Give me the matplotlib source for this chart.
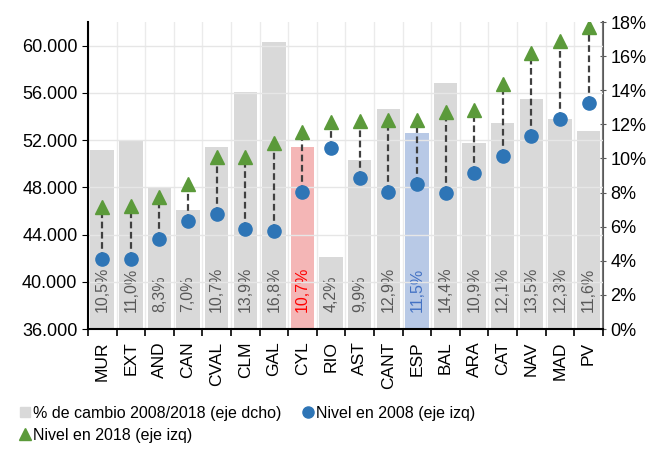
import numpy as np
import matplotlib
matplotlib.use("Agg")
import matplotlib.pyplot as plt
from matplotlib.lines import Line2D
from matplotlib.ticker import FuncFormatter, FixedLocator

plt.rcParams['font.family'] = ['Liberation Sans', 'DejaVu Sans']

# datos
regiones = ["MUR", "EXT", "AND", "CAN", "CVAL", "CLM", "GAL", "CYL", "RIO",
            "AST", "CANT", "ESP", "BAL", "ARA", "CAT", "NAV", "MAD", "PV"]
nivel_2008 = [41970, 41890, 43600, 45150, 45770, 44480, 44310, 47580, 51320,
              48820, 47580, 48280, 47520, 49240, 50680, 52310, 53800, 55180]
nivel_2018 = [46310, 46420, 47210, 48310, 50590, 50590, 51770, 52650, 53490,
              53610, 53720, 53720, 54370, 54560, 56790, 59350, 60370, 61550]
cambio_pct = [10.5, 11.0, 8.3, 7.0, 10.7, 13.9, 16.8, 10.7, 4.2,
              9.9, 12.9, 11.5, 14.4, 10.9, 12.1, 13.5, 12.3, 11.6]

x = np.arange(len(regiones))

bar_colors = ["#D9D9D9"] * len(regiones)
label_colors = ["#595959"] * len(regiones)
bar_colors[regiones.index("CYL")] = "#F4B6B6"
label_colors[regiones.index("CYL")] = "#FF0000"
bar_colors[regiones.index("ESP")] = "#B8C9E6"
label_colors[regiones.index("ESP")] = "#4472C4"

fig = plt.figure(figsize=(6.56, 4.51), dpi=100)
ax = fig.add_axes([0.134, 0.2705, 0.785, 0.6807])
ax2 = ax.twinx()

# barras (eje dcho)
ax2.bar(x, cambio_pct, width=0.82, color=bar_colors, zorder=1)
for xi, v, c in zip(x, cambio_pct, label_colors):
    ax2.text(xi, 1.0, f"{v:.1f}%".replace(".", ","), rotation=90,
             ha="center", va="bottom", fontsize=11.5, color=c)
ax2.set_ylim(0, 18)
ax2.yaxis.set_major_locator(FixedLocator(np.arange(0, 19, 2)))
ax2.yaxis.set_major_formatter(FuncFormatter(lambda v, p: f"{v:.0f}%"))
ax2.tick_params(axis="y", labelsize=13, length=4, color="#595959", direction="inout")

# niveles (eje izq)
ax.set_zorder(ax2.get_zorder() + 1)
ax.patch.set_visible(False)
for xi, a, b in zip(x, nivel_2008, nivel_2018):
    ax.plot([xi, xi], [a, b], ls=(0, (3, 1.6)), color="#404040", lw=1.6, zorder=2)
ax.plot(x, nivel_2008, "o", color="#2E75B6", ms=9.5, zorder=3)
ax.plot(x, nivel_2018, "^", color="#5B9A3A", ms=10, zorder=3)
ax.set_ylim(36000, 62000)
ax.set_xlim(-0.5, len(regiones) - 0.5)
ax.yaxis.set_major_locator(FixedLocator(np.arange(36000, 60001, 4000)))
ax.yaxis.set_major_formatter(FuncFormatter(lambda v, p: f"{v:,.0f}".replace(",", ".")))
ax.tick_params(axis="y", labelsize=13, length=4)

ax.set_xticks(x)
ax.set_xticklabels(regiones, rotation=90, fontsize=12.5)
ax.set_xticks(np.arange(-0.5, len(regiones)), minor=True)
ax.tick_params(axis="x", which="major", length=0, pad=9)
ax.tick_params(axis="x", which="minor", length=5, width=1.2)

ax.grid(axis="y", color="#E6E6E6", lw=1, zorder=0)
ax.grid(axis="x", which="minor", color="#EBEBEB", lw=1, zorder=0)
ax.grid(axis="x", which="major", visible=False)

for a in (ax, ax2):
    a.spines["top"].set_visible(False)
ax.spines["left"].set_linewidth(1.5)
ax.spines["bottom"].set_linewidth(1.5)
ax.spines["right"].set_visible(False)
ax2.spines["left"].set_visible(False)
ax2.spines["bottom"].set_visible(False)
ax2.spines["right"].set_color("#595959")
ax2.spines["right"].set_linewidth(1.5)

# leyenda: orden por filas (col1: barras, 2018; col2: 2008)
h_bar = Line2D([], [], marker="s", ls="none", color="#D9D9D9", ms=7)
h_2008 = Line2D([], [], marker="o", ls="none", color="#2E75B6", ms=8)
h_2018 = Line2D([], [], marker="^", ls="none", color="#5B9A3A", ms=8)
fig.legend([h_bar, h_2018, h_2008],
           ["% de cambio 2008/2018 (eje dcho)", "Nivel en 2018 (eje izq)",
            "Nivel en 2008 (eje izq)"],
           ncol=2, loc="upper left", bbox_to_anchor=(0.02, 0.115),
           frameon=False, fontsize=11.5, handlelength=0.7, handletextpad=0.15,
           columnspacing=1.3, labelspacing=0.45, borderaxespad=0)

fig.savefig("out.png", dpi=100)
